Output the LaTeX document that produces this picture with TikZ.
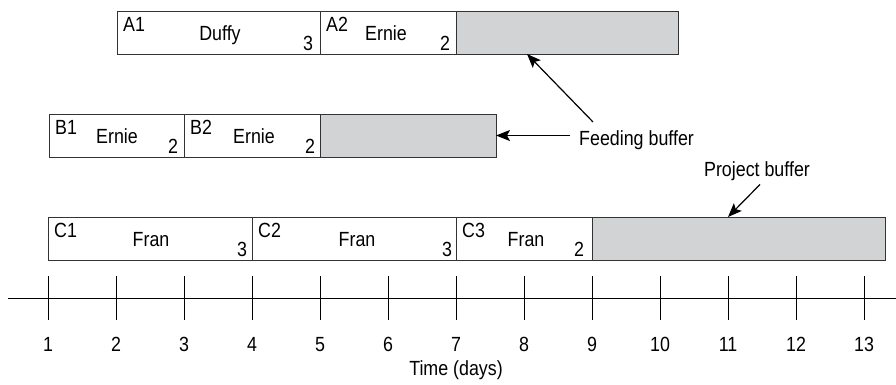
\documentclass[tikz,border=0pt]{standalone}
\usepackage{fontspec}
\setmainfont[FakeStretch=0.87]{Liberation Sans}
\usetikzlibrary{arrows.meta,calc}
\definecolor{boxc}{HTML}{333333}
\definecolor{bufc}{HTML}{D1D3D4}
\begin{document}
\begin{tikzpicture}[x=1pt,y=-1pt,
  task/.style={draw=boxc, line width=1pt, fill=white, inner sep=0pt, outer sep=0pt, anchor=north west, minimum height=43pt},
  buf/.style={task, fill=bufc},
  txt/.style={inner sep=0pt, font=\fontsize{20.5}{24}\selectfont},
  arr/.style={line width=1.2pt, -{Stealth[length=14pt,width=11pt,inset=3pt]}},
  tickline/.style={line width=0.9pt}]
\useasboundingbox (0,0) rectangle (896,384);
% boxes
\node[task, minimum width=203pt] (A1) at (117,11) {};
\node[task, minimum width=136pt] (A2) at (320,11) {};
\node[buf,  minimum width=222pt] (Ab) at (456,11) {};
\node[task, minimum width=135pt] (B1) at (49,114) {};
\node[task, minimum width=136pt] (B2) at (184,114) {};
\node[buf,  minimum width=176pt] (Bb) at (320,114) {};
\node[task, minimum width=204pt] (C1) at (48,217) {};
\node[task, minimum width=204pt] (C2) at (252,217) {};
\node[task, minimum width=136pt] (C3) at (456,217) {};
\node[buf,  minimum width=293pt] (Cb) at (592,217) {};
% labels row A
\node[txt, anchor=base west] (A1i) at ($(A1.north west)+(6,20)$) {A1};
\node[txt, anchor=base] (A1n) at (220,40) {Duffy};
\node[txt, anchor=base] (A1d) at (308,50) {3};
\node[txt, anchor=base west] (A2i) at ($(A2.north west)+(6,20)$) {A2};
\node[txt, anchor=base] (A2n) at (386,40) {Ernie};
\node[txt, anchor=base] (A2d) at (445,50) {2};
% row B
\node[txt, anchor=base west] (B1i) at ($(B1.north west)+(6,20)$) {B1};
\node[txt, anchor=base] (B1n) at (117,143) {Ernie};
\node[txt, anchor=base] (B1d) at (173,153) {2};
\node[txt, anchor=base west] (B2i) at ($(B2.north west)+(6,20)$) {B2};
\node[txt, anchor=base] (B2n) at (254,143) {Ernie};
\node[txt, anchor=base] (B2d) at (310,153) {2};
% row C
\node[txt, anchor=base west] (C1i) at ($(C1.north west)+(6,20)$) {C1};
\node[txt, anchor=base] (C1n) at (151,246) {Fran};
\node[txt, anchor=base] (C1d) at (242,256) {3};
\node[txt, anchor=base west] (C2i) at ($(C2.north west)+(6,20)$) {C2};
\node[txt, anchor=base] (C2n) at (357,246) {Fran};
\node[txt, anchor=base] (C2d) at (447,256) {3};
\node[txt, anchor=base west] (C3i) at ($(C3.north west)+(6,20)$) {C3};
\node[txt, anchor=base] (C3n) at (526,246) {Fran};
\node[txt, anchor=base] (C3d) at (579,256) {2};
% callouts
\node[txt, anchor=base west] (fb) at (579,145) {Feeding buffer};
\node[txt, anchor=base] (pb) at (757,176) {Project buffer};
\draw[arr] ($(fb.north west)+(14,-8)$) -- ($(Ab.south west)+(71,0)$);
\draw[arr] ($(Bb.east -| fb.west)+(-9,0)$) -- (Bb.east);
\draw[arr] ($(pb.south)+(3,4)$) -- ($(Cb.north west)+(136,0)$);
% axis
\draw[tickline] (8,298) -- (896,298);
\foreach \i in {1,...,13}{
  \pgfmathsetmacro{\xx}{48+68*(\i-1)}
  \draw[tickline] (\xx,276) -- (\xx,320);
  \node[txt, anchor=base] (t\i) at (\xx,351) {\i};
}
\node[txt, anchor=base] (tlabel) at (456,375) {Time (days)};
\end{tikzpicture}
\end{document}
